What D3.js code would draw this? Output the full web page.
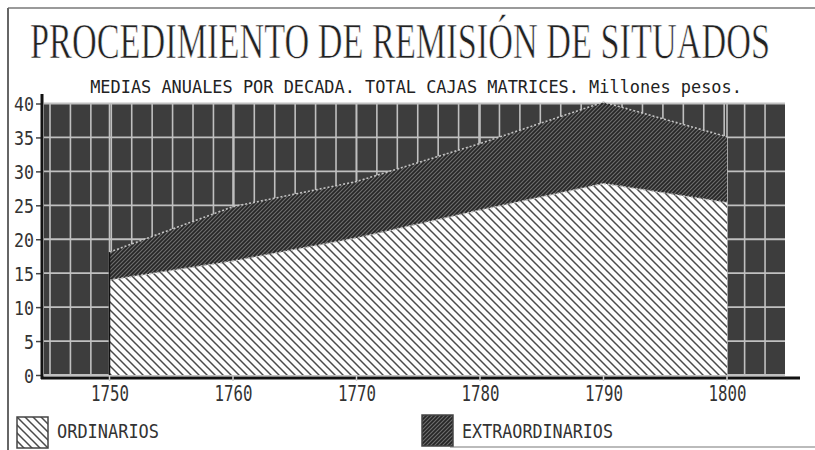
<!DOCTYPE html>
<html>
<head>
<meta charset="utf-8">
<script src="https://cdn.jsdelivr.net/npm/d3@7"></script>
<style>
  body{margin:0;background:#fff;}
  svg{display:block;}
</style>
</head>
<body>
<div id="chart"></div>
<script>
// data (millones de pesos, medias anuales por decada)
const years = [1750, 1760, 1770, 1780, 1790, 1800];
const ordinarios = [14.0, 16.8, 20.2, 24.3, 28.2, 25.4];
const extraordinarios = [4.1, 8.0, 8.3, 9.8, 12.0, 9.7];
const yTicks = [0, 5, 10, 15, 20, 25, 30, 35, 40];
const titulo = "PROCEDIMIENTO DE REMISIÓN DE SITUADOS";
const subtitulo = "MEDIAS ANUALES POR DECADA. TOTAL CAJAS MATRICES. Millones pesos.";
const legendNames = ["ORDINARIOS", "EXTRAORDINARIOS"];

const width = 815, height = 450;
const mono = "'DejaVu Sans Mono', monospace";

const svg = d3.select("#chart").append("svg")
  .attr("width", width).attr("height", height);

// patterns
const defs = svg.append("defs");
const pOrd = defs.append("pattern").attr("id", "ord")
  .attr("patternUnits", "userSpaceOnUse").attr("width", 8).attr("height", 8);
pOrd.append("rect").attr("width", 8).attr("height", 8).attr("fill", "#fdfdfd");
pOrd.append("path").attr("d", "M-2,-2 L10,10 M-2,6 L2,10 M6,-2 L10,2")
  .attr("stroke", "#4a4a4a").attr("stroke-width", 1.5);

const pExt = defs.append("pattern").attr("id", "ext")
  .attr("patternUnits", "userSpaceOnUse").attr("width", 4).attr("height", 4);
pExt.append("rect").attr("width", 4).attr("height", 4).attr("fill", "#262626");
pExt.append("path").attr("d", "M-1,5 L5,-1 M-1,1 L1,-1 M3,5 L5,3")
  .attr("stroke", "#6e6e6e").attr("stroke-width", 1.1);

// frame of the page
svg.append("line").attr("x1", 8).attr("x2", 815).attr("y1", 8).attr("y2", 8)
  .attr("stroke", "#9a9a9a").attr("stroke-width", 2);
svg.append("line").attr("x1", 8).attr("x2", 8).attr("y1", 8).attr("y2", 450)
  .attr("stroke", "#666").attr("stroke-width", 2);
svg.append("line").attr("x1", 450).attr("x2", 815).attr("y1", 447).attr("y2", 447)
  .attr("stroke", "#bbb").attr("stroke-width", 2);

// helper: squeeze a text horizontally to a given width, keeping it centred
function squeeze(sel, cx, cy, w) {
  const natural = sel.node().getComputedTextLength();
  sel.attr("x", 0).attr("y", 0).attr("text-anchor", "middle")
    .attr("transform", `translate(${cx},${cy}) scale(${w / natural},1)`);
}

// titles
const t1 = svg.append("text")
  .attr("font-family", "'Liberation Serif', serif").attr("font-size", 50)
  .attr("fill", "#222").attr("stroke", "#fff").attr("stroke-width", 0.7)
  .text(titulo);
squeeze(t1, 400, 58, 740);
const t2 = svg.append("text")
  .attr("font-family", mono).attr("font-size", 17).attr("fill", "#222")
  .text(subtitulo);
squeeze(t2, 416, 93, 652);

// scales
const x = d3.scaleLinear().domain([1750, 1800]).range([109.5, 727]);
const y = d3.scaleLinear().domain([0, 40]).range([375, 103.5]);
const plotL = 44, plotR = 785;

const g = svg.append("g");

// dark background of the plot
g.append("rect").attr("x", plotL).attr("y", y(40))
  .attr("width", plotR - plotL).attr("height", y(0) - y(40))
  .attr("fill", "#3d3d3d");

// grid
g.selectAll(".hgrid").data(yTicks).enter().append("line")
  .attr("x1", plotL).attr("x2", plotR)
  .attr("y1", d => y(d)).attr("y2", d => y(d))
  .attr("stroke", "#c0c0c0").attr("stroke-width", 1.8);
g.selectAll(".vgrid").data(d3.range(50, plotR, 20.43)).enter().append("line")
  .attr("x1", d => d).attr("x2", d => d)
  .attr("y1", y(40)).attr("y2", y(0))
  .attr("stroke", "#c0c0c0").attr("stroke-width", 1.6);
g.selectAll(".dgrid").data(years).enter().append("line")
  .attr("x1", d => x(d)).attr("x2", d => x(d))
  .attr("y1", y(40)).attr("y2", y(0) + 5)
  .attr("stroke", "#c0c0c0").attr("stroke-width", 1.6);

// stacked areas
const rows = years.map((yr, i) => ({yr, o: ordinarios[i], t: ordinarios[i] + extraordinarios[i]}));

const areaExt = d3.area().x(d => x(d.yr)).y0(d => y(d.o)).y1(d => y(d.t));
const areaOrd = d3.area().x(d => x(d.yr)).y0(y(0)).y1(d => y(d.o));

g.append("path").datum(rows).attr("d", areaExt).attr("fill", "url(#ext)");
g.append("path").datum(rows).attr("d", areaOrd).attr("fill", "url(#ord)");

// dotted light edges
const edge = acc => d3.line().x(d => x(d.yr)).y(d => y(acc(d)));
g.append("path").datum(rows).attr("d", edge(d => d.t))
  .attr("fill", "none").attr("stroke", "#c4c4c4").attr("stroke-width", 1.6)
  .attr("stroke-dasharray", "2,2");
g.append("path").datum(rows).attr("d", edge(d => d.o))
  .attr("fill", "none").attr("stroke", "#bdbdbd").attr("stroke-width", 1.6)
  .attr("stroke-dasharray", "2,2");
g.append("line").attr("x1", x(1750)).attr("x2", x(1750))
  .attr("y1", y(ordinarios[0] + extraordinarios[0])).attr("y2", y(0))
  .attr("stroke", "#111").attr("stroke-width", 1.5);

// axes
const yAxis = d3.axisLeft(y).tickValues(yTicks).tickSize(6).tickPadding(2);
const ya = svg.append("g").attr("transform", "translate(42,0)").call(yAxis);
ya.select(".domain").remove();
ya.selectAll(".tick line").attr("stroke", "#444").attr("stroke-width", 1.5);
ya.selectAll("text").attr("font-family", mono).attr("font-size", 20)
  .attr("fill", "#333").attr("dy", "0.36em")
  .attr("textLength", d => String(d).length * 10).attr("lengthAdjust", "spacingAndGlyphs");

const xAxis = d3.axisBottom(x).tickValues(years).tickFormat(d3.format("d"))
  .tickSize(0).tickPadding(8);
const xa = svg.append("g").attr("transform", "translate(0,378)").call(xAxis);
xa.select(".domain").remove();
xa.selectAll("text").attr("font-family", mono).attr("font-size", 21)
  .attr("fill", "#333")
  .attr("textLength", 38).attr("lengthAdjust", "spacingAndGlyphs");

// axis lines
svg.append("line").attr("x1", 41).attr("x2", 800).attr("y1", 378).attr("y2", 378)
  .attr("stroke", "#111").attr("stroke-width", 3);
svg.append("line").attr("x1", 42).attr("x2", 42).attr("y1", 94).attr("y2", 379)
  .attr("stroke", "#111").attr("stroke-width", 3);
svg.selectAll(".xt").data(years).enter().append("line")
  .attr("x1", d => x(d)).attr("x2", d => x(d)).attr("y1", 376).attr("y2", 381)
  .attr("stroke", "#d0d0d0").attr("stroke-width", 1.5);

// legend
const legend = [
  {name: legendNames[0], fill: "url(#ord)", sx: 17, sy: 417, tx: 57, tw: 102},
  {name: legendNames[1], fill: "url(#ext)", sx: 422, sy: 415, tx: 462, tw: 151}
];
const lg = svg.selectAll(".lg").data(legend).enter().append("g");
lg.append("rect").attr("x", d => d.sx).attr("y", d => d.sy)
  .attr("width", 31).attr("height", 31)
  .attr("fill", d => d.fill).attr("stroke", "#444").attr("stroke-width", 1.5);
lg.append("text").attr("x", d => d.tx).attr("y", 438)
  .attr("font-family", mono).attr("font-size", 19).attr("fill", "#333")
  .attr("textLength", d => d.tw).attr("lengthAdjust", "spacingAndGlyphs")
  .text(d => d.name);
</script>
</body>
</html>
